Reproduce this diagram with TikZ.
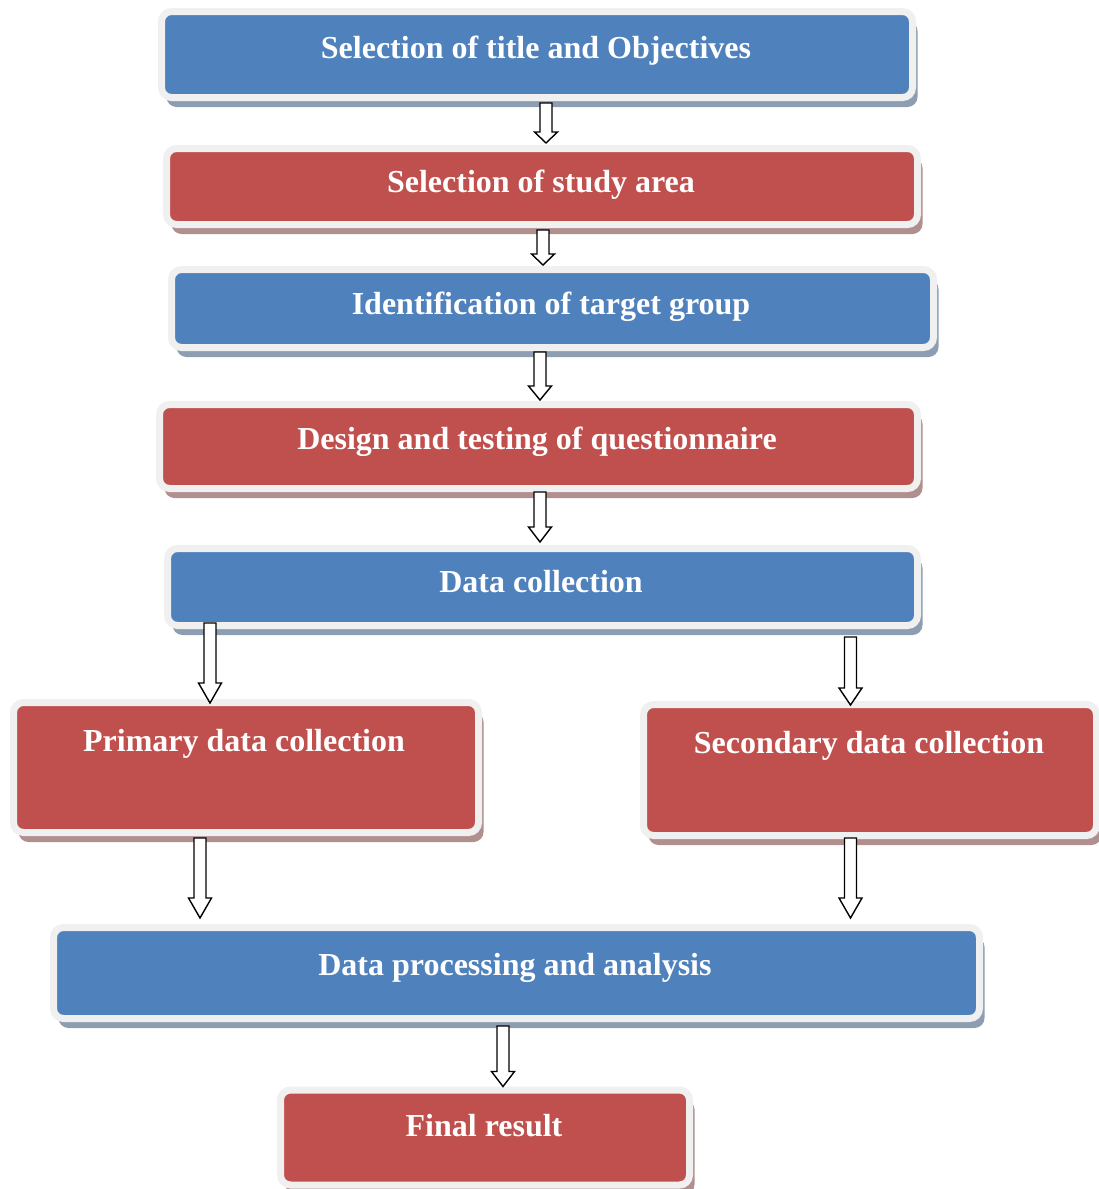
\documentclass[tikz,border=0pt]{standalone}
\usepackage{fontspec}
\setmainfont{Liberation Serif}
\usetikzlibrary{calc,shadows}
\definecolor{boxblue}{HTML}{4F81BD}
\definecolor{boxred}{HTML}{C0504D}
\definecolor{rimgray}{HTML}{F0F0F0}
\definecolor{blueshade}{HTML}{8E9EB2}
\definecolor{redshade}{HTML}{B08F8E}
% hollow block arrow: start point, tip point, head length
\newcommand\blockarrow[3]{%
  \draw[flowarrow] ($(#1)+(-6,0)$) -- ($(#2)+(-6,-#3)$) -- ($(#2)+(-11.5,-#3)$)
    -- (#2) -- ($(#2)+(11.5,-#3)$) -- ($(#2)+(6,-#3)$) -- ($(#1)+(6,0)$) -- cycle;}
\begin{document}
\begin{tikzpicture}[x=1pt,y=-1pt,
  stage/.style={rectangle, rounded corners=10pt, draw=rimgray, line width=7pt, inner sep=0pt},
  bluestage/.style={stage, fill=boxblue,
    drop shadow={shadow xshift=5pt, shadow yshift=-9.5pt, fill=blueshade, opacity=1}},
  redstage/.style={stage, fill=boxred,
    drop shadow={shadow xshift=5pt, shadow yshift=-9.5pt, fill=redshade, opacity=1}},
  caption/.style={text=white, font=\fontsize{32}{38}\selectfont\bfseries, anchor=base, inner sep=0pt},
  flowarrow/.style={draw=black, fill=white, line width=1.4pt, line join=miter}]
\useasboundingbox (0,0) rectangle (1099,1189);

% stages
\node[bluestage, minimum width=751pt, minimum height=86pt] (n1) at (537,54.5) {};
\node[redstage,  minimum width=751pt, minimum height=76pt] (n2) at (542,186.5) {};
\node[bluestage, minimum width=762pt, minimum height=78pt] (n3) at (552.5,308.5) {};
\node[redstage,  minimum width=758pt, minimum height=84pt] (n4) at (538.5,446.5) {};
\node[bluestage, minimum width=750pt, minimum height=77pt] (n5) at (542.5,587) {};
\node[redstage,  minimum width=465pt, minimum height=130pt] (n6) at (246,767.5) {};
\node[redstage,  minimum width=453pt, minimum height=131pt] (n7) at (870,770) {};
\node[bluestage, minimum width=926pt, minimum height=91pt] (n8) at (516.5,973) {};
\node[redstage,  minimum width=409pt, minimum height=95pt] (n9) at (485,1137.5) {};

% labels
\node[caption] (t1) at (536,58) {Selection of title and Objectives};
\node[caption] (t2) at (541,192) {Selection of study area};
\node[caption] (t3) at (551,314) {Identification of target group};
\node[caption] (t4) at (537,449) {Design and testing of questionnaire};
\node[caption] (t5) at (541,592) {Data collection};
\node[caption] (t6) at (244,751) {Primary data collection};
\node[caption] (t7) at (869,753) {Secondary data collection};
\node[caption] (t8) at (515,975) {Data processing and analysis};
\node[caption] (t9) at (484,1136) {Final result};

% arrow columns
\coordinate (x1) at (546,0);
\coordinate (x2) at (543,0);
\coordinate (x3) at (540,0);
\coordinate (x5) at (210,0);
\coordinate (x6) at (850.5,0);
\coordinate (x7) at (200,0);
\coordinate (x9) at (503,0);

% connectors
\blockarrow{$(x1 |- n1.south)+(0,2)$}{$(x1 |- n2.north)+(0,-2)$}{11}
\blockarrow{$(x2 |- n2.south)+(0,2)$}{$(x2 |- n3.north)+(0,-1)$}{11}
\blockarrow{$(x3 |- n3.south)+(0,1)$}{$(x3 |- n4.north)+(0,-1)$}{14}
\blockarrow{$(x3 |- n4.south)$}{$(x3 |- n5.north)+(0,-3)$}{15}
\blockarrow{$(x5 |- n5.south)+(0,-6)$}{$(x5 |- n6.north)+(0,4)$}{20}
\blockarrow{$(x6 |- n5.south)+(0,8)$}{$(x6 |- n7.north)+(0,4)$}{17}
\blockarrow{$(x7 |- n6.south)+(0,2)$}{$(x7 |- n8.north)+(0,-6)$}{20}
\blockarrow{$(x6 |- n7.south)+(0,-1)$}{$(x6 |- n8.north)+(0,-6)$}{20}
\blockarrow{$(x9 |- n8.south)+(0,4)$}{$(x9 |- n9.north)$}{15}
\end{tikzpicture}
\end{document}
